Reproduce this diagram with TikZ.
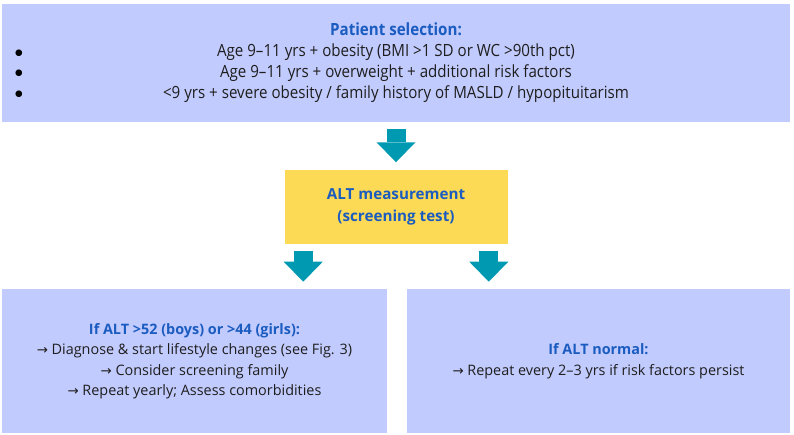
\documentclass[tikz,border=0pt]{standalone}
\usepackage{fontspec}
\setmainfont{Open Sans}
\newfontfamily\narrowfont{Open Sans}[FakeStretch=0.9]
\newfontfamily\arrowfont{DejaVu Sans}
\usepackage{xcolor}
\usetikzlibrary{positioning,arrows.meta,calc}
\definecolor{boxblue}{RGB}{194,203,254}
\definecolor{boxyellow}{RGB}{253,218,85}
\definecolor{arrowteal}{RGB}{0,153,178}
\definecolor{headblue}{RGB}{27,92,192}
\definecolor{bodytext}{RGB}{30,30,30}
\newcommand{\rarrow}{{\arrowfont\fontsize{10}{10}\selectfont →}}

\tikzset{
  infobox/.style={fill=boxblue, inner sep=0pt, align=center, text=bodytext},
  testbox/.style={fill=boxyellow, inner sep=0pt, align=center, text=headblue,
    font=\bfseries\fontsize{11.4}{16.5}\selectfont},
  flowarrow/.style={draw=arrowteal, line width=14.25pt,
    -{Triangle[length=15pt, width=29.25pt, line width=0pt]},
    shorten <=5.25pt, shorten >=5.25pt},
  bulletmark/.style={text=black, inner sep=0pt, font=\arrowfont\fontsize{6.5}{6.5}\selectfont}
}

\begin{document}
\begin{tikzpicture}[x=0.75pt, y=-0.75pt]
  \useasboundingbox (0,0) rectangle (794,435);

  % Top: patient selection
  \node[infobox, minimum width=591pt, minimum height=88.5pt,
        font=\narrowfont\fontsize{12.6}{15.75}\selectfont] (sel) at (396,63)
    {{\bfseries\color{headblue}Patient selection:}\\
     Age 9–11 yrs + obesity (BMI >1 SD or WC >90th pct)\\
     Age 9–11 yrs + overweight + additional risk factors\\
     <9 yrs + severe obesity / family history of MASLD / hypopituitarism};
  \node[bulletmark] (dotA) at (19,53) {●};
  \node[bulletmark] (dotB) at (19,73) {●};
  \node[bulletmark] (dotC) at (19,94) {●};

  % Middle: the test
  \node[testbox, minimum width=167.25pt, minimum height=55.5pt,
        below=35.25pt of sel] (alt)
    {ALT measurement\\(screening test)};

  % Bottom: the two outcomes
  \node[infobox, minimum width=288.75pt, minimum height=108pt,
        font=\fontsize{10.8}{15.375}\selectfont] (high) at (194.5,361)
    {{\bfseries\color{headblue}If ALT >52 (boys) or >44 (girls):}\\
     \rarrow{} Diagnose \& start lifestyle changes (see Fig. 3)\\
     \rarrow{} Consider screening family\\
     \rarrow{} Repeat yearly; Assess comorbidities};
  \node[infobox, minimum width=287.25pt, minimum height=108pt,
        font=\fontsize{10.8}{15.375}\selectfont] (normal) at (598.5,361)
    {{\bfseries\color{headblue}If ALT normal:}\\
     \rarrow{} Repeat every 2–3 yrs if risk factors persist};

  % Arrows
  \draw[flowarrow] (sel.south) -- (alt.north);
  \draw[flowarrow] ([xshift=14.25pt]alt.south west)
    -- ([xshift=14.25pt]alt.south west |- high.north);
  \draw[flowarrow] ([xshift=-14.25pt]alt.south east)
    -- ([xshift=-14.25pt]alt.south east |- normal.north);
\end{tikzpicture}
\end{document}
